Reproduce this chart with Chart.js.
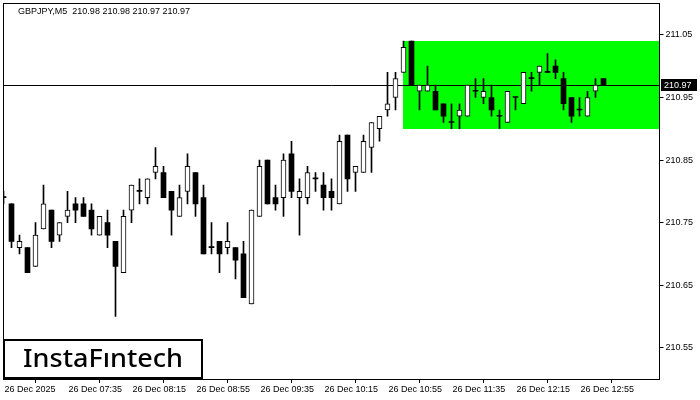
<!DOCTYPE html>
<html>
<head>
<meta charset="utf-8">
<script src="https://cdn.jsdelivr.net/npm/chart.js@4.4.0/dist/chart.umd.min.js"></script>
<style>
  html, body { margin: 0; padding: 0; background: #fff; }
</style>
</head>
<body>
<canvas id="chart" width="700" height="400"></canvas>
<script>
const symbol = 'GBPJPY,M5';

// 5 minute candles, first one at 06:55
const opens = [
  210.79, 210.78, 210.71, 210.71, 210.68, 210.74, 210.77, 210.73, 210.76, 210.78,
  210.78, 210.77, 210.73, 210.75, 210.72, 210.67, 210.77, 210.80, 210.79, 210.83,
  210.83, 210.80, 210.76, 210.80, 210.83, 210.79, 210.71, 210.72, 210.71, 210.71,
  210.70, 210.62, 210.76, 210.85, 210.79, 210.79, 210.86, 210.79, 210.79, 210.82,
  210.81, 210.80, 210.78, 210.89, 210.83, 210.83, 210.87, 210.90, 210.93, 210.95,
  210.99, 211.04, 210.96, 210.96, 210.96, 210.94, 210.91, 210.92, 210.92, 210.96,
  210.95, 210.95, 210.92, 210.91, 210.95, 210.94, 210.98, 210.99, 210.99, 211.00,
  210.98, 210.95, 210.93, 210.92, 210.96, 210.98
];
const highs = [
  210.80, 210.78, 210.73, 210.71, 210.75, 210.81, 210.77, 210.75, 210.80, 210.79,
  210.79, 210.78, 210.76, 210.77, 210.72, 210.77, 210.81, 210.82, 210.82, 210.87,
  210.84, 210.80, 210.81, 210.86, 210.83, 210.81, 210.75, 210.72, 210.75, 210.71,
  210.72, 210.77, 210.85, 210.85, 210.81, 210.86, 210.88, 210.82, 210.84, 210.83,
  210.83, 210.82, 210.89, 210.89, 210.84, 210.89, 210.91, 210.92, 210.99, 210.99,
  211.04, 211.04, 210.97, 211.00, 210.97, 210.94, 210.94, 210.94, 210.97, 210.98,
  210.98, 210.97, 210.93, 210.96, 210.95, 210.99, 210.99, 211.00, 211.02, 211.01,
  210.99, 210.95, 210.95, 210.96, 210.98, 210.98
];
const lows = [
  210.78, 210.71, 210.70, 210.67, 210.68, 210.74, 210.71, 210.72, 210.75, 210.75,
  210.76, 210.73, 210.73, 210.71, 210.60, 210.67, 210.75, 210.78, 210.78, 210.82,
  210.79, 210.73, 210.76, 210.78, 210.76, 210.70, 210.70, 210.67, 210.70, 210.66,
  210.63, 210.62, 210.76, 210.78, 210.77, 210.76, 210.79, 210.73, 210.78, 210.80,
  210.77, 210.77, 210.78, 210.80, 210.80, 210.83, 210.83, 210.88, 210.92, 210.93,
  210.99, 210.97, 210.93, 210.96, 210.93, 210.91, 210.90, 210.90, 210.92, 210.95,
  210.94, 210.92, 210.90, 210.91, 210.93, 210.94, 210.96, 210.97, 210.99, 210.98,
  210.93, 210.91, 210.92, 210.92, 210.95, 210.97
];
const closes = [
  210.79, 210.72, 210.72, 210.67, 210.73, 210.78, 210.72, 210.75, 210.77, 210.77,
  210.76, 210.74, 210.76, 210.73, 210.68, 210.76, 210.81, 210.80, 210.82, 210.84,
  210.79, 210.77, 210.79, 210.84, 210.78, 210.70, 210.71, 210.70, 210.72, 210.69,
  210.63, 210.77, 210.84, 210.78, 210.78, 210.85, 210.80, 210.80, 210.83, 210.82,
  210.79, 210.79, 210.88, 210.82, 210.84, 210.88, 210.91, 210.92, 210.94, 210.98,
  211.03, 210.97, 210.97, 210.97, 210.93, 210.92, 210.91, 210.93, 210.97, 210.96,
  210.96, 210.93, 210.92, 210.96, 210.95, 210.99, 210.98, 211.00, 210.99, 210.99,
  210.94, 210.92, 210.93, 210.95, 210.97, 210.97
];

const tickIdx = [0, 8, 16, 24, 32, 40, 48, 56, 64, 72];
const tickLabels = [
  '26 Dec 2025', '26 Dec 07:35', '26 Dec 08:15', '26 Dec 08:55', '26 Dec 09:35',
  '26 Dec 10:15', '26 Dec 10:55', '26 Dec 11:35', '26 Dec 12:15', '26 Dec 12:55'
];
const priceTicks = [210.55, 210.65, 210.75, 210.85, 210.95, 211.05];

// green pattern box
const boxStart = 50;
const boxTop = 211.04;
const boxBottom = 210.90;
const lastPrice = 210.97;

const FONT = '"Liberation Sans", Arial, sans-serif';
Chart.defaults.font.family = FONT;
Chart.defaults.font.size = 9;
Chart.defaults.color = '#000';

const wicks = highs.map((h, i) => ({ x: i, y: [lows[i], h] }));
const upBodies = [];
const downBodies = [];
opens.forEach((o, i) => {
  const c = closes[i];
  if (c > o) upBodies.push({ x: i, y: [o, c] });
  else downBodies.push({ x: i, y: [c, o] });
});

const overlay = {
  id: 'overlay',
  beforeDatasetsDraw(chart) {
    const { ctx, chartArea: a, scales: { x, y } } = chart;
    ctx.save();
    ctx.fillStyle = '#00ff00';
    const x0 = Math.floor(x.getPixelForValue(boxStart));
    const y0 = Math.round(y.getPixelForValue(boxTop));
    const y1 = Math.round(y.getPixelForValue(boxBottom));
    ctx.fillRect(x0, y0, Math.round(a.right) - x0, y1 - y0);

    const py = Math.round(y.getPixelForValue(lastPrice)) + 0.5;
    ctx.strokeStyle = '#000';
    ctx.lineWidth = 1;
    ctx.beginPath();
    ctx.moveTo(a.left, py);
    ctx.lineTo(a.right, py);
    ctx.stroke();
    ctx.restore();
  },
  afterDraw(chart) {
    const { ctx, chartArea: a, scales: { y } } = chart;
    const n = opens.length - 1;
    ctx.save();
    // frame
    ctx.strokeStyle = '#000';
    ctx.lineWidth = 1;
    const l = Math.floor(a.left) + 0.5, t = Math.floor(a.top) + 0.5;
    const r = Math.floor(a.right) + 0.5, b = Math.floor(a.bottom) + 0.5;
    ctx.strokeRect(l, t, r - l, b - t);

    // title
    ctx.font = '9px ' + FONT;
    ctx.fillStyle = '#000';
    ctx.textBaseline = 'alphabetic';
    const title = symbol + '  ' + [opens[n], highs[n], lows[n], closes[n]].map(v => v.toFixed(2)).join(' ');
    ctx.fillText(title, 18, 13.5);

    // current price label
    const py = Math.round(y.getPixelForValue(lastPrice));
    ctx.fillStyle = '#000';
    ctx.fillRect(661, py - 6, 36, 12);
    ctx.fillStyle = '#fff';
    ctx.textBaseline = 'middle';
    ctx.fillText(lastPrice.toFixed(2), 664, py + 0.5);

    // logo
    ctx.fillStyle = '#fff';
    ctx.fillRect(4, 340, 198, 38);
    ctx.lineWidth = 2;
    ctx.strokeStyle = '#000';
    ctx.strokeRect(4, 340, 198, 38);
    ctx.fillStyle = '#000';
    ctx.font = '500 25px "Noto Sans", sans-serif';
    ctx.textBaseline = 'alphabetic';
    const logo = 'InstaF\u0131ntech';
    const w = ctx.measureText(logo).width;
    ctx.translate(23, 367);
    ctx.scale(160 / w, 1);
    ctx.fillText(logo, 0, 0);
    ctx.restore();
  }
};

new Chart(document.getElementById('chart'), {
  type: 'bar',
  data: {
    datasets: [
      {
        data: upBodies,
        backgroundColor: '#fff',
        borderColor: '#000',
        borderWidth: 1,
        borderSkipped: false,
        barThickness: 5,
        grouped: false,
        order: 1
      },
      {
        data: downBodies,
        backgroundColor: '#000',
        borderWidth: 0,
        barThickness: 5,
        minBarLength: 1,
        grouped: false,
        order: 1
      },
      {
        data: wicks,
        backgroundColor: '#000',
        borderWidth: 0,
        barThickness: 1,
        grouped: false,
        order: 2
      }
    ]
  },
  options: {
    responsive: false,
    animation: false,
    layout: { padding: { left: 3.5, top: 3, right: 0, bottom: 0 } },
    plugins: { legend: { display: false }, tooltip: { enabled: false } },
    scales: {
      x: {
        type: 'linear',
        min: 0,
        max: 82,
        offset: false,
        afterBuildTicks: s => { s.ticks = tickIdx.map(v => ({ value: v })); },
        afterFit: s => { s.height = 21; s.paddingLeft = 0; s.paddingRight = 0; },
        grid: { drawOnChartArea: false, drawTicks: true, tickLength: 4, color: '#000' },
        border: { display: false },
        ticks: {
          align: 'start',
          maxRotation: 0,
          autoSkip: false,
          padding: 1,
          labelOffset: 1,
          callback: (v, i) => tickLabels[i]
        }
      },
      y: {
        type: 'linear',
        position: 'right',
        min: 210.50,
        max: 211.101,
        afterBuildTicks: s => { s.ticks = priceTicks.map(v => ({ value: v })); },
        afterFit: s => { s.width = 40.5; s.paddingTop = 0; s.paddingBottom = 0; },
        grid: { drawOnChartArea: false, drawTicks: true, tickLength: 4, color: '#000' },
        border: { display: false },
        ticks: {
          padding: 2,
          callback: v => v.toFixed(2)
        }
      }
    }
  },
  plugins: [overlay]
});
</script>
</body>
</html>
